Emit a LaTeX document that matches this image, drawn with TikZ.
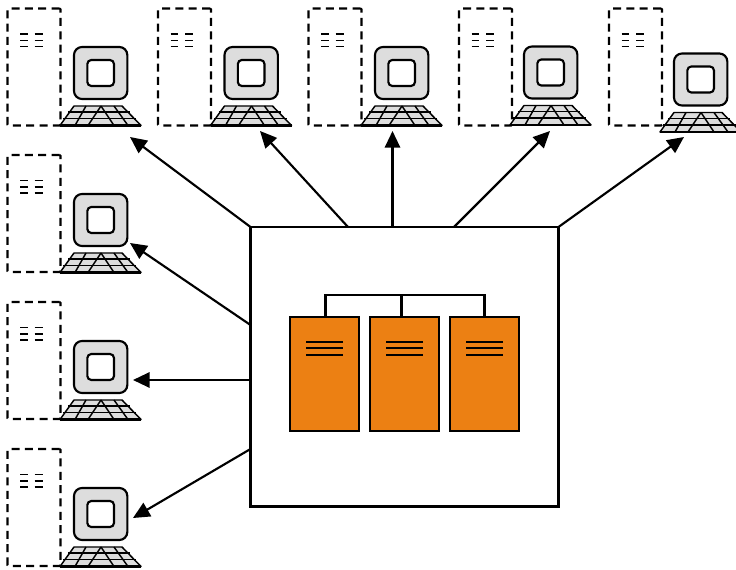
\documentclass[tikz,border=0pt]{standalone}
\usetikzlibrary{arrows.meta,calc}
\definecolor{srv}{HTML}{EC8013}
\definecolor{scr}{HTML}{DDDDDD}
\tikzset{
  px/.style={x=0.75pt,y=-0.75pt},
  every node/.style={outer sep=0pt,inner sep=0pt},
  towerbox/.style={draw,dash pattern=on 6pt off 4pt,line width=1.6pt,rounded corners=0.7pt,minimum width=39.75pt,minimum height=87.75pt,anchor=north west},
  towerline/.style={line width=1.2pt},
  monitorbox/.style={draw,fill=scr,line width=1.6pt,rounded corners=6pt,minimum width=40pt,minimum height=39pt,anchor=north west},
  screenbox/.style={draw,fill=white,line width=1.6pt,rounded corners=3pt,minimum width=20pt,minimum height=19.5pt,anchor=center},
  kbd/.style={draw,fill=scr,line width=1.1pt,line join=round},
  kbdline/.style={line width=1.1pt},
  mainbox/.style={draw,line width=1.9pt,fill=white,minimum width=231pt,minimum height=209.5pt,anchor=north west},
  serverbox/.style={draw,fill=srv,line width=1.6pt,minimum width=51.5pt,minimum height=85.5pt,anchor=north west},
  busline/.style={line width=1.7pt},
  ventline/.style={line width=1.5pt},
  link/.style={line width=1.6pt,-{Triangle[length=12.5pt,width=11.5pt]}}
}
% #1 name, #2 tower x, #3 tower y, #4 monitor x, #5 monitor y
\newcommand{\client}[5]{
  \node[towerbox] (#1t) at (#2,#3) {};
  \foreach \yy in {25.5,32,38}{
    \draw[towerline] ($(#1t.north west)+(12.5,\yy)$) -- ++(7.5,0);
    \draw[towerline] ($(#1t.north west)+(27,\yy)$) -- ++(8,0);
  }
  \node[monitorbox] (#1m) at (#4,#5) {};
  \node[screenbox] (#1s) at (#1m.center) {};
  \coordinate (#1k) at ($(#4,#5)+(27,59)$);
  \draw[kbd] ($(#1k)+(-41,19.5)$) -- ($(#1k)+(-27,0)$) -- ($(#1k)+(21,0)$) -- ($(#1k)+(40,19.5)$) -- cycle;
  \draw[kbdline] ($(#1k)+(-33,6)$) -- ($(#1k)+(29,6)$);
  \draw[kbdline] ($(#1k)+(-38,12.5)$) -- ($(#1k)+(35,12.5)$);
  \draw[kbdline] ($(#1k)+(-15,0)$) -- ($(#1k)+(-26,19.5)$);
  \draw[kbdline] ($(#1k)+(0,0)$) -- ($(#1k)+(-13,19.5)$);
  \draw[kbdline] ($(#1k)+(0,0)$) -- ($(#1k)+(13,19.5)$);
  \draw[kbdline] ($(#1k)+(13,0)$) -- ($(#1k)+(27,19.5)$);
  \draw[line width=1.7pt] ($(#1k)+(-41,19.5)$) -- ($(#1k)+(40,19.5)$);
}
\begin{document}
\begin{tikzpicture}[px]
\useasboundingbox (0,0) rectangle (736,570);
\client{a}{7.5}{8.5}{74}{47}
\client{b}{158}{8.5}{224.5}{47}
\client{c}{308.5}{8.5}{375}{47}
\client{d}{459}{8.5}{524}{46.5}
\client{e}{609}{8.5}{674}{53.5}
\client{f}{7.5}{155}{74}{194}
\client{g}{7.5}{302}{74}{341}
\client{h}{7.5}{449}{74}{488}
\node[mainbox] (main) at (250.5,227) {};
\node[serverbox] (s1) at (290,317) {};
\node[serverbox] (s2) at (370,317) {};
\node[serverbox] (s3) at (450,317) {};
\foreach \n in {1,2,3}{
  \foreach \yy in {25,31.5,38}{
    \draw[ventline] ($(s\n.north west)+(16,\yy)$) -- ++(36.5,0);
  }
}
\coordinate (bus1) at (325.5,295);
\coordinate (bus2) at (401.5,295);
\coordinate (bus3) at (484.5,295);
\draw[busline] (bus1 |- s1.north) -- (bus1) -- (bus3) -- (bus3 |- s3.north);
\draw[busline] (bus2) -- (bus2 |- s2.north);
\coordinate (ta) at (130,137);
\coordinate (tb) at (260,131);
\coordinate (tc) at (392.5,131);
\coordinate (td) at (550,131);
\coordinate (te) at (684,137);
\coordinate (tf) at (130,243);
\coordinate (tg) at (133,380);
\coordinate (th) at (133,518);
\coordinate (fa) at (250.5,227);
\coordinate (fb) at (348,227);
\coordinate (fc) at (392.5,227);
\coordinate (fd) at (454,227);
\coordinate (fe) at (558.5,227);
\coordinate (ff) at (250.5,325);
\coordinate (fg) at (250.5,380);
\coordinate (fh) at (250.5,449);
\foreach \n in {a,b,c,d,e,f,g,h}{
  \draw[link] (f\n) -- (t\n);
}
\end{tikzpicture}
\end{document}
